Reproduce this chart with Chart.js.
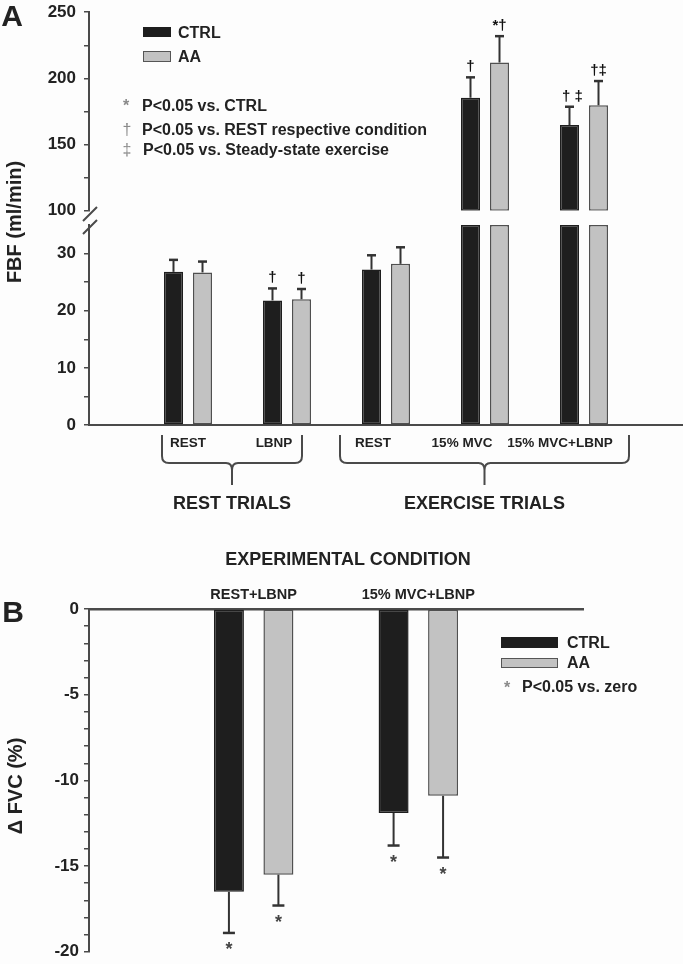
<!DOCTYPE html>
<html>
<head>
<meta charset="utf-8">
<title>FBF and FVC</title>
<script src="https://cdn.jsdelivr.net/npm/chart.js@4.4.1/dist/chart.umd.min.js"></script>
<style>
  body { margin: 0; background: #fdfdfd; }
  #fig { position: relative; width: 683px; height: 964px; overflow: hidden;
         font-family: "Liberation Sans", Arial, sans-serif; font-weight: bold; color: #222; }
  #fig canvas { position: absolute; left: 0; }
  .t { position: absolute; white-space: nowrap; line-height: 1; }
  .c { transform: translate(-50%, -50%); }
  .l { transform: translate(0, -50%); }
  .r90 { transform: translate(-50%, -50%) rotate(-90deg); }
  .box { position: absolute; box-sizing: border-box; }
  .sym { color: #8a8a8a; }
</style>
</head>
<body>
<div id="fig">
  <canvas id="fbfTop" width="683" height="235" style="top:-6px"></canvas>
  <canvas id="fbfLow" width="683" height="340" style="top:200px"></canvas>
  <canvas id="fvc" width="683" height="427" style="top:540px"></canvas>

  <div class="t c" style="left:12px;top:16px;font-size:30px">A</div>
  <div class="t r90" style="left:14px;top:222px;font-size:20px">FBF (ml/min)</div>

  <div class="box" style="left:143px;top:27px;width:28px;height:10px;background:#1e1e1e"></div>
  <div class="t l" style="left:178px;top:33px;font-size:16px">CTRL</div>
  <div class="box" style="left:143px;top:51px;width:28px;height:11px;background:#c2c2c2;border:1.5px solid #555"></div>
  <div class="t l" style="left:178px;top:57px;font-size:16px">AA</div>

  <div class="t c sym" style="left:126px;top:106px;font-size:16px">*</div>
  <div class="t l" style="left:142px;top:106px;font-size:16px">P&lt;0.05 vs. CTRL</div>
  <div class="t c sym" style="left:127px;top:130px;font-size:16px;font-weight:normal">†</div>
  <div class="t l" style="left:142px;top:130px;font-size:16px">P&lt;0.05 vs. REST respective condition</div>
  <div class="t c sym" style="left:127px;top:150px;font-size:16px;font-weight:normal">‡</div>
  <div class="t l" style="left:143px;top:150px;font-size:16px">P&lt;0.05 vs. Steady-state exercise</div>

  <div class="t c" style="left:348px;top:559px;font-size:18px">EXPERIMENTAL CONDITION</div>

  <div class="t c" style="left:13px;top:612px;font-size:30px">B</div>
  <div class="t r90" style="left:15px;top:786px;font-size:20px">Δ FVC (%)</div>

  <div class="box" style="left:501px;top:637px;width:57px;height:11px;background:#1e1e1e"></div>
  <div class="t l" style="left:567px;top:643px;font-size:16px">CTRL</div>
  <div class="box" style="left:501px;top:658px;width:57px;height:10px;background:#c2c2c2;border:1.5px solid #555"></div>
  <div class="t l" style="left:567px;top:663px;font-size:16px">AA</div>
  <div class="t c sym" style="left:507px;top:688px;font-size:16px">*</div>
  <div class="t l" style="left:522px;top:687px;font-size:16px">P&lt;0.05 vs. zero</div>
</div>

<script>
// Panel A - forearm blood flow (ml/min)
var conditions = ['REST', 'LBNP', 'REST', '15% MVC', '15% MVC+LBNP'];
var trials = ['REST TRIALS', 'EXERCISE TRIALS'];
var trialOf = [0, 0, 1, 1, 1];
var ctrlFBF = [26.8, 21.8, 27.2, 185.4, 164.8];
var ctrlFBFsd = [2.1, 2.1, 2.5, 15.4, 13.8];
var aaFBF = [26.7, 22.0, 28.2, 212.0, 179.7];
var aaFBFsd = [1.9, 1.8, 2.9, 19.9, 18.3];
var ctrlFBFsig = ['', '†', '', '†', '† ‡'];
var aaFBFsig = ['', '†', '', '*†', '†‡'];
var lowTicks = [0, 10, 20, 30];
var highTicks = [100, 150, 200, 250];

// Panel B - change in forearm vascular conductance (%)
var lbnpConditions = ['REST+LBNP', '15% MVC+LBNP'];
var ctrlFVC = [-16.5, -11.9];
var ctrlFVCsd = [2.4, 1.9];
var aaFVC = [-15.5, -10.9];
var aaFVCsd = [1.8, 3.6];
var ctrlFVCsig = ['*', '*'];
var aaFVCsig = ['*', '*'];
var fvcTicks = [0, -5, -10, -15, -20];

var fontFamily = '"Liberation Sans", Arial, sans-serif';
var textColor = '#222';
var inkColor = '#4a4a4a';
var ctrlColor = '#1e1e1e';
var aaColor = '#c2c2c2';
var aaEdge = '#505050';
var lowMax = 35;

function pad(a, fill) {
    return [fill].concat(a, [fill]);
}

function barSet(label, values, shown, sd, sig, fill, edge, catPct, barPct) {
    return {
        label: label,
        data: pad(shown, null),
        val: pad(values, null),
        err: pad(sd, null),
        sig: pad(sig, ''),
        backgroundColor: fill,
        borderColor: edge,
        borderWidth: 1.5,
        borderSkipped: false,
        categoryPercentage: catPct,
        barPercentage: barPct
    };
}

function yAxis(min, max, step, labelled, padding, hideTop) {
    return {
        min: min,
        max: max,
        afterFit: function (s) { s.width = 89; },
        ticks: {
            stepSize: step,
            autoSkip: false,
            padding: padding,
            color: textColor,
            font: { family: fontFamily, size: 17, weight: 'bold' },
            callback: function (v) { return labelled.indexOf(v) >= 0 ? v : ''; }
        },
        grid: {
            drawOnChartArea: false,
            drawTicks: true,
            tickLength: 5,
            lineWidth: 1.5,
            color: function (c) {
                return hideTop && c.tick && c.tick.value === max ? 'rgba(0,0,0,0)' : inkColor;
            }
        },
        border: { color: inkColor, width: 2 }
    };
}

// whiskers and significance marks on the bars
var errorBars = {
    id: 'errorBars',
    afterDatasetsDraw: function (chart, args, opts) {
        var ctx = chart.ctx, y = chart.scales.y;
        ctx.save();
        chart.data.datasets.forEach(function (ds, i) {
            chart.getDatasetMeta(i).data.forEach(function (bar, j) {
                var v = ds.val[j];
                if (v == null || !opts.show(v)) return;
                var end = v >= 0 ? v + ds.err[j] : v - ds.err[j];
                var y0 = y.getPixelForValue(v), y1 = y.getPixelForValue(end);
                ctx.strokeStyle = '#333';
                ctx.lineWidth = 2;
                ctx.beginPath();
                ctx.moveTo(bar.x, y0);
                ctx.lineTo(bar.x, y1);
                ctx.stroke();
                ctx.lineWidth = 2.5;
                ctx.beginPath();
                ctx.moveTo(bar.x - opts.cap, y1);
                ctx.lineTo(bar.x + opts.cap, y1);
                ctx.stroke();
                if (ds.sig[j]) {
                    ctx.textAlign = 'center';
                    ctx.textBaseline = 'alphabetic';
                    if (v >= 0) {
                        ctx.font = 'bold 15px ' + fontFamily;
                        ctx.fillStyle = '#111';
                        ctx.fillText(ds.sig[j], bar.x + (ds.sig[j].length > 2 ? 3 : 0), y1 - 6);
                    } else {
                        ctx.font = 'bold 18px ' + fontFamily;
                        ctx.fillStyle = '#444';
                        ctx.fillText(ds.sig[j], bar.x, y1 + 22);
                    }
                }
            });
        });
        ctx.restore();
    }
};

// category names, trial brackets and the axis break below panel A
var trialBrackets = {
    id: 'trialBrackets',
    afterDraw: function (chart) {
        var ctx = chart.ctx, x = chart.scales.x;
        var base = chart.chartArea.bottom, top = chart.chartArea.top;
        var labelShift = [0, -13, -13, -23, -24];
        var bracketPad = [[26, 15], [46, 45]];
        ctx.save();
        ctx.fillStyle = textColor;
        ctx.textAlign = 'center';
        ctx.textBaseline = 'middle';
        ctx.font = 'bold 13.5px ' + fontFamily;
        conditions.forEach(function (c, i) {
            ctx.fillText(c, x.getPixelForValue(i + 1) + labelShift[i], base + 18);
        });
        ctx.strokeStyle = inkColor;
        ctx.lineWidth = 2;
        trials.forEach(function (name, g) {
            var idx = [];
            trialOf.forEach(function (t, i) { if (t === g) idx.push(i); });
            var left = x.getPixelForValue(idx[0] + 1) - bracketPad[g][0];
            var right = x.getPixelForValue(idx[idx.length - 1] + 1) + bracketPad[g][1];
            var mid = (left + right) / 2, y0 = base + 10, yh = base + 38, ys = base + 60;
            ctx.beginPath();
            ctx.moveTo(left, y0);
            ctx.lineTo(left, yh - 7);
            ctx.quadraticCurveTo(left, yh, left + 7, yh);
            ctx.lineTo(mid - 6, yh);
            ctx.quadraticCurveTo(mid, yh, mid, yh + 7);
            ctx.lineTo(mid, ys);
            ctx.moveTo(right, y0);
            ctx.lineTo(right, yh - 7);
            ctx.quadraticCurveTo(right, yh, right - 7, yh);
            ctx.lineTo(mid + 6, yh);
            ctx.quadraticCurveTo(mid, yh, mid, yh + 7);
            ctx.stroke();
            ctx.font = 'bold 18px ' + fontFamily;
            ctx.fillText(name, mid, base + 79);
        });
        // axis break marks
        var ax = chart.scales.y.right;
        ctx.beginPath();
        ctx.moveTo(ax - 6, top - 4);
        ctx.lineTo(ax + 8, top - 18);
        ctx.moveTo(ax - 6, top + 9);
        ctx.lineTo(ax + 8, top - 5);
        ctx.stroke();
        ctx.restore();
    }
};

var common = {
    responsive: false,
    animation: false,
    events: [],
    plugins: { legend: { display: false }, tooltip: { enabled: false } }
};

function options(extra) {
    return Object.assign({}, common, extra, {
        plugins: Object.assign({}, common.plugins, extra.plugins)
    });
}

// Panel A, upper segment (100-250)
new Chart(document.getElementById('fbfTop'), {
    type: 'bar',
    data: {
        labels: pad(conditions, ''),
        datasets: [
            barSet('CTRL', ctrlFBF, ctrlFBF.map(function (v) { return v > 100 ? [100, v] : null; }),
                ctrlFBFsd, ctrlFBFsig, ctrlColor, ctrlColor, 0.586, 0.655),
            barSet('AA', aaFBF, aaFBF.map(function (v) { return v > 100 ? [100, v] : null; }),
                aaFBFsd, aaFBFsig, aaColor, aaEdge, 0.586, 0.655)
        ]
    },
    options: options({
        layout: { padding: { top: 12, bottom: 12, left: 0, right: 0 } },
        scales: {
            x: { type: 'category', offset: false, display: false },
            y: yAxis(100, 250, 25, highTicks, 8, false)
        },
        plugins: { errorBars: { cap: 4.5, show: function (v) { return v > 100; } } }
    }),
    plugins: [errorBars]
});

// Panel A, lower segment (0-35)
new Chart(document.getElementById('fbfLow'), {
    type: 'bar',
    data: {
        labels: pad(conditions, ''),
        datasets: [
            barSet('CTRL', ctrlFBF, ctrlFBF.map(function (v) { return Math.min(v, lowMax); }),
                ctrlFBFsd, ctrlFBFsig, ctrlColor, ctrlColor, 0.586, 0.655),
            barSet('AA', aaFBF, aaFBF.map(function (v) { return Math.min(v, lowMax); }),
                aaFBFsd, aaFBFsig, aaColor, aaEdge, 0.586, 0.655)
        ]
    },
    options: options({
        layout: { padding: { top: 25, bottom: 0, left: 0, right: 0 } },
        scales: {
            x: {
                type: 'category',
                offset: false,
                afterFit: function (s) { s.height = 115; },
                ticks: { display: false },
                grid: { display: false, drawTicks: false },
                border: { color: inkColor, width: 2 }
            },
            y: yAxis(0, lowMax, 5, lowTicks, 8, true)
        },
        plugins: { errorBars: { cap: 4.5, show: function (v) { return v <= lowMax; } } }
    }),
    plugins: [errorBars, trialBrackets]
});

// Panel B
new Chart(document.getElementById('fvc'), {
    type: 'bar',
    data: {
        labels: pad(lbnpConditions, ''),
        datasets: [
            barSet('CTRL', ctrlFVC, ctrlFVC, ctrlFVCsd, ctrlFVCsig, ctrlColor, ctrlColor, 0.601, 0.606),
            barSet('AA', aaFVC, aaFVC, aaFVCsd, aaFVCsig, aaColor, aaEdge, 0.601, 0.606)
        ]
    },
    options: options({
        layout: { padding: { top: 0, bottom: 12, left: 0, right: 100 } },
        scales: {
            x: {
                type: 'category',
                position: 'top',
                offset: false,
                afterFit: function (s) { s.height = 69; },
                ticks: {
                    autoSkip: false,
                    maxRotation: 0,
                    padding: 5,
                    color: textColor,
                    font: { family: fontFamily, size: 14.5, weight: 'bold' }
                },
                grid: { display: false, drawTicks: false, tickLength: 0 },
                border: { color: inkColor, width: 2.5 }
            },
            y: yAxis(-20, 0, 1, fvcTicks, 5, false)
        },
        plugins: { errorBars: { cap: 6, show: function () { return true; } } }
    }),
    plugins: [errorBars]
});
</script>
</body>
</html>
